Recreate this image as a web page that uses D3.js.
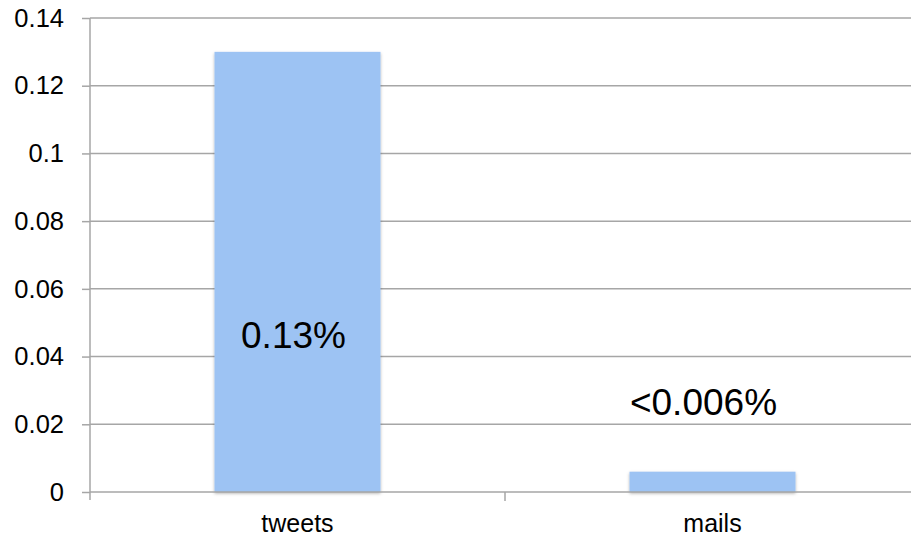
<!DOCTYPE html>
<html>
<head>
<meta charset="utf-8">
<script src="https://cdn.jsdelivr.net/npm/d3@7"></script>
<style>
  html, body { margin: 0; padding: 0; background: #fff; }
  svg { display: block; font-family: "Liberation Sans", Arial, Helvetica, sans-serif; }
</style>
</head>
<body>
<svg id="chart" width="911" height="538"></svg>
<script>
// Share of messages, by channel
const categories = ["tweets", "mails"];
const values = [0.13, 0.006];
const valueLabels = ["0.13%", "<0.006%"];
const yTicks = [0, 0.02, 0.04, 0.06, 0.08, 0.1, 0.12, 0.14];

const svg = d3.select("#chart");
const plotLeft = 90, plotRight = 920, plotTop = 18, plotBottom = 492;

const x = d3.scaleBand().domain(categories).range([plotLeft, plotRight]).padding(0);
const y = d3.scaleLinear().domain([0, 0.14]).range([plotBottom, plotTop]);

const gridColor = "#a6a6a6";

// drop shadow for bars
const defs = svg.append("defs");
const f = defs.append("filter").attr("id", "shadow")
  .attr("x", "-10%").attr("y", "-10%").attr("width", "120%").attr("height", "130%");
f.append("feDropShadow").attr("dx", 0).attr("dy", 1.5).attr("stdDeviation", 1.5)
  .attr("flood-color", "#000").attr("flood-opacity", 0.3);

// horizontal gridlines
svg.append("g").selectAll("line").data(yTicks.filter(d => d > 0)).join("line")
  .attr("x1", plotLeft).attr("x2", 911)
  .attr("y1", d => y(d)).attr("y2", d => y(d))
  .attr("stroke", gridColor).attr("stroke-width", 1.5);

// bars
const barW = x.step() * 0.4;
svg.append("g").selectAll("rect").data(categories).join("rect")
  .attr("x", d => x(d) + x.step() * 0.3)
  .attr("width", barW)
  .attr("y", (d, i) => y(values[i]))
  .attr("height", (d, i) => plotBottom - y(values[i]))
  .attr("fill", "#9dc3f3")
  .attr("filter", "url(#shadow)");

// y axis
const yAxis = d3.axisLeft(y).tickValues(yTicks).tickSize(8).tickPadding(18)
  .tickFormat(d => d === 0 ? "0" : String(+d.toFixed(2)));
const gy = svg.append("g").attr("transform", `translate(${plotLeft},0)`).call(yAxis);
gy.select(".domain").attr("stroke", gridColor).attr("stroke-width", 1.5)
  .attr("d", `M0,${plotTop}V${plotBottom + 8}`);
gy.selectAll(".tick line").attr("stroke", gridColor).attr("stroke-width", 1.5);
gy.selectAll(".tick text").attr("font-size", 25.5).attr("fill", "#000")
  .attr("font-family", "Liberation Sans, Arial, sans-serif");

// x axis baseline
svg.append("line").attr("x1", plotLeft).attr("x2", 911)
  .attr("y1", plotBottom).attr("y2", plotBottom)
  .attr("stroke", gridColor).attr("stroke-width", 1.5);

// category separator ticks
svg.append("g").selectAll("line").data(categories.slice(1)).join("line")
  .attr("x1", d => x(d)).attr("x2", d => x(d))
  .attr("y1", plotBottom).attr("y2", plotBottom + 9)
  .attr("stroke", gridColor).attr("stroke-width", 1.5);

// category labels
svg.append("g").selectAll("text").data(categories).join("text")
  .attr("x", d => x(d) + x.step() / 2)
  .attr("y", 532)
  .attr("text-anchor", "middle")
  .attr("font-size", 25)
  .attr("fill", "#000")
  .text(d => d);

// value labels
const labelY = [348, 415];
const labelDx = [-4, -9];
svg.append("g").selectAll("text").data(categories).join("text")
  .attr("x", (d, i) => x(d) + x.step() / 2 + labelDx[i])
  .attr("y", (d, i) => labelY[i])
  .attr("text-anchor", "middle")
  .attr("font-size", 37)
  .attr("fill", "#000")
  .text((d, i) => valueLabels[i]);
</script>
</body>
</html>
